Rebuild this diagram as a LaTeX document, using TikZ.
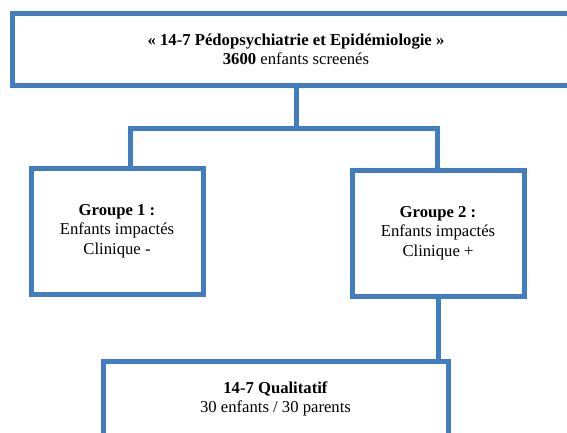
\documentclass[tikz,border=0pt]{standalone}
\usepackage{fontspec}
\setmainfont{Liberation Serif}
\definecolor{boxblue}{RGB}{65,125,192}
\begin{document}
\begin{tikzpicture}[x=0.75pt,y=-0.75pt,
  blk/.style={draw=boxblue,line width=3.75pt,align=center,inner sep=0pt,
    font=\fontsize{12.5}{14.5}\selectfont},
  link/.style={draw=boxblue,line width=3.75pt}]
\clip (0,0) rectangle (567,432);
\node[blk,minimum width=426pt,minimum height=54pt] (study) at (296,49.5)
  {\textbf{« 14-7 Pédopsychiatrie et Epidémiologie »}\\\textbf{3600} enfants screenés};
\node[blk,minimum width=129pt,minimum height=94.5pt] (g1) at (117,231)
  {\textbf{Groupe 1 :}\\Enfants impactés\\Clinique -};
\node[blk,minimum width=129pt,minimum height=94.5pt] (g2) at (438,233)
  {\textbf{Groupe 2 :}\\Enfants impactés\\Clinique +};
\node[blk,minimum width=258.75pt,minimum height=57pt] (qual) at (275.5,399)
  {\textbf{14-7 Qualitatif}\\30 enfants / 30 parents};
% branches
\coordinate (fork) at (296,128);
\coordinate (forkl) at (130,128);
\coordinate (forkr) at (437,128);
\draw[link] (study.south) -- (fork);
\draw[link] (forkl |- g1.north) -- (forkl) -- (forkr) -- (forkr |- g2.north);
\draw[link] (g2.south) -- (g2.south |- qual.north);
\end{tikzpicture}
\end{document}
